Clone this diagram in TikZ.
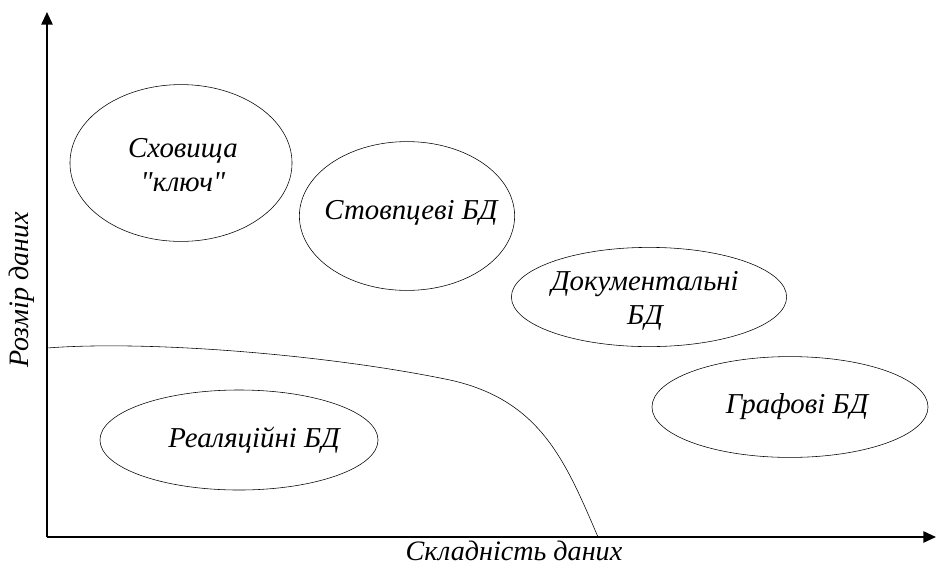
\documentclass[tikz,border=0pt]{standalone}
\usepackage{fontspec}
\setmainfont{Liberation Serif}
\usetikzlibrary{arrows.meta,shapes.geometric}
\tikzstyle{dbclass}=[draw, ellipse, inner sep=0pt]
\tikzstyle{dbtext}=[font=\itshape\fontsize{20.5}{24}\selectfont, align=center, inner sep=0pt]
\tikzstyle{axis}=[line width=1.3pt, -{Triangle[length=9pt,width=8pt]}]
\tikzstyle{axislabel}=[font=\itshape\fontsize{20}{24}\selectfont]

\begin{document}
\begin{tikzpicture}[x=0.025cm, y=-0.025cm]
    \useasboundingbox (0,0) rectangle (938,567);
    % axes
    \coordinate (o) at (47,537);
    \coordinate (ytop) at (47,12);
    \coordinate (xend) at (936,537);
    \draw [axis] (o) -- (ytop);
    \draw [axis] (o) -- (xend);
    \node (ylab) [axislabel, rotate=90] at (22,290) {Розмір даних};
    \node (xlab) [axislabel] at (514,551) {Складність даних};
    %
    \node (kv) [dbclass, minimum width=5.55cm, minimum height=3.92cm] at (181,163) {};
    \node (kvt) [dbtext] at (183,165) {Сховища\\\textquotedbl ключ\textquotedbl};
    \node (col) [dbclass, minimum width=5.38cm, minimum height=3.72cm] at (407,216) {};
    \node (colt) [dbtext] at (411,213) {Стовпцеві БД};
    \node (doc) [dbclass, minimum width=6.88cm, minimum height=2.48cm] at (649,297) {};
    \node (doct) [dbtext] at (645,301) {Документальні\\БД};
    \node (graph) [dbclass, minimum width=6.9cm, minimum height=2.52cm] at (790,407) {};
    \node (grapht) [dbtext] at (797,407) {Графові БД};
    \node (rel) [dbclass, minimum width=6.95cm, minimum height=2.5cm] at (239,440) {};
    \node (relt) [dbtext] at (254,440) {Реаляційні БД};
    %
    \coordinate (bstart) at (47,348);
    \coordinate (bend) at (598,537);
    \draw [thin] (bstart) .. controls (150,340) and (330,355) .. (450,380)
        .. controls (540,400) and (565,460) .. (bend);
\end{tikzpicture}
\end{document}
